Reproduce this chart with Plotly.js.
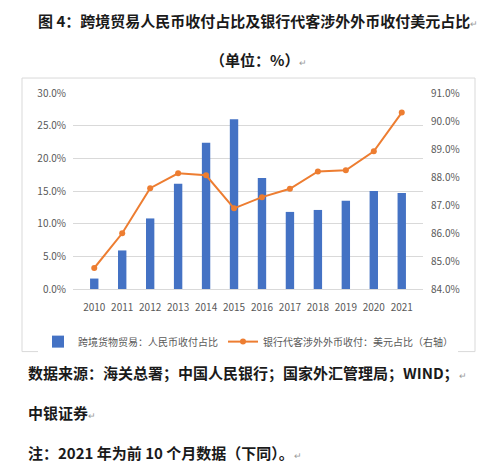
<!DOCTYPE html>
<html>
<head>
<meta charset="utf-8">
<script src="https://cdn.plot.ly/plotly-3.0.1.min.js"></script>
<style>
  html, body { margin: 0; padding: 0; background: #fff; }
  #chart { width: 499px; height: 471px; }
</style>
</head>
<body>
<div id="chart"></div>
<script>
// data
var years = ['2010', '2011', '2012', '2013', '2014', '2015', '2016', '2017', '2018', '2019', '2020', '2021'];
var rmbShare = [1.6, 5.9, 10.8, 16.1, 22.4, 26.0, 17.0, 11.8, 12.1, 13.5, 15.0, 14.7];
var usdShare = [84.75, 85.99, 87.6, 88.13, 88.06, 86.88, 87.28, 87.58, 88.2, 88.24, 88.92, 90.3];
var barName = '跨境货物贸易：人民币收付占比';
var lineName = '银行代客涉外外币收付：美元占比（右轴）';

// plot area in pixels: x 73..423, y 93..289
var L = 73, R = 423, T = 93, B = 289.3;
function px(x) { return (x - L) / (R - L); }
function py(y) { return (B - y) / (B - T); }

var cjk = '"Noto Sans CJK SC", "Noto Sans", sans-serif';
var ret = '<span style="color:#9a9a9a;font-size:9px;font-weight:normal">↵</span>';

var trace0 = {
    x: years,
    y: rmbShare,
    name: barName,
    type: 'bar',
    marker: { color: '#4472C4' },
    yaxis: 'y',
};

var trace1 = {
    x: years,
    y: usdShare,
    name: lineName,
    type: 'scatter',
    mode: 'lines+markers',
    line: { color: '#ED7D31', width: 2 },
    marker: { color: '#ED7D31', size: 6 },
    yaxis: 'y2',
};

var layout = {
    width: 499,
    height: 471,
    margin: { l: L, r: 499 - R, t: T, b: 471 - B, pad: 0 },
    paper_bgcolor: '#fff',
    plot_bgcolor: '#fff',
    font: { family: cjk, size: 10, color: '#595959' },
    bargap: 0.7,
    showlegend: true,
    legend: {
        orientation: 'h',
        x: px(38),
        y: py(342),
        xanchor: 'left',
        yanchor: 'middle',
        font: { family: cjk, size: 10, color: '#595959' },
        itemwidth: 30,
        tracegroupgap: 0,
    },
    xaxis: {
        type: 'category',
        showgrid: false,
        zeroline: false,
        showline: true,
        linecolor: '#D9D9D9',
        ticks: '',
        tickangle: 0,
        ticklabelstandoff: 9,
        tickfont: { family: cjk, size: 10, color: '#595959' },
    },
    yaxis: {
        range: [0, 30],
        dtick: 5,
        tickformat: '.1f',
        ticksuffix: '%',
        showgrid: true,
        gridcolor: '#D9D9D9',
        zeroline: false,
        ticklabelstandoff: 6,
        tickfont: { family: cjk, size: 10, color: '#595959' },
    },
    yaxis2: {
        range: [84, 91],
        dtick: 1,
        tickformat: '.1f',
        ticksuffix: '%',
        overlaying: 'y',
        side: 'right',
        showgrid: false,
        zeroline: false,
        ticklabelstandoff: 7,
        tickfont: { family: cjk, size: 10, color: '#595959' },
    },
    shapes: [
        {
            type: 'rect', xref: 'paper', yref: 'paper',
            x0: px(22), x1: px(475), y0: py(352), y1: py(78),
            line: { color: '#D9D9D9', width: 1 },
        },
    ],
    annotations: [
        {
            xref: 'paper', yref: 'paper', x: px(258), y: py(20),
            text: '<b>图 4：跨境贸易人民币收付占比及银行代客涉外外币收付美元占比</b>' + ret,
            showarrow: false, xanchor: 'center', yanchor: 'middle',
            font: { family: cjk, size: 15, color: '#1a1a1a' },
        },
        {
            xref: 'paper', yref: 'paper', x: px(258), y: py(59),
            text: '<b>（单位：%）</b>' + ret,
            showarrow: false, xanchor: 'center', yanchor: 'middle',
            font: { family: cjk, size: 15, color: '#1a1a1a' },
        },
        {
            xref: 'paper', yref: 'paper', x: px(26), y: py(373),
            text: '<b>数据来源：海关总署；中国人民银行；国家外汇管理局；WIND；</b>' + ret,
            showarrow: false, xanchor: 'left', yanchor: 'middle',
            font: { family: cjk, size: 15, color: '#1a1a1a' },
        },
        {
            xref: 'paper', yref: 'paper', x: px(26), y: py(413),
            text: '<b>中银证券</b>' + ret,
            showarrow: false, xanchor: 'left', yanchor: 'middle',
            font: { family: cjk, size: 15, color: '#1a1a1a' },
        },
        {
            xref: 'paper', yref: 'paper', x: px(26), y: py(453),
            text: '<b>注：2021 年为前 10 个月数据（下同）。</b>' + ret,
            showarrow: false, xanchor: 'left', yanchor: 'middle',
            font: { family: cjk, size: 15, color: '#1a1a1a' },
        },
    ],
};

var config = {
    responsive: false,
    staticPlot: true,
};

Plotly.newPlot('chart', [trace0, trace1], layout, config);
</script>
</body>
</html>
